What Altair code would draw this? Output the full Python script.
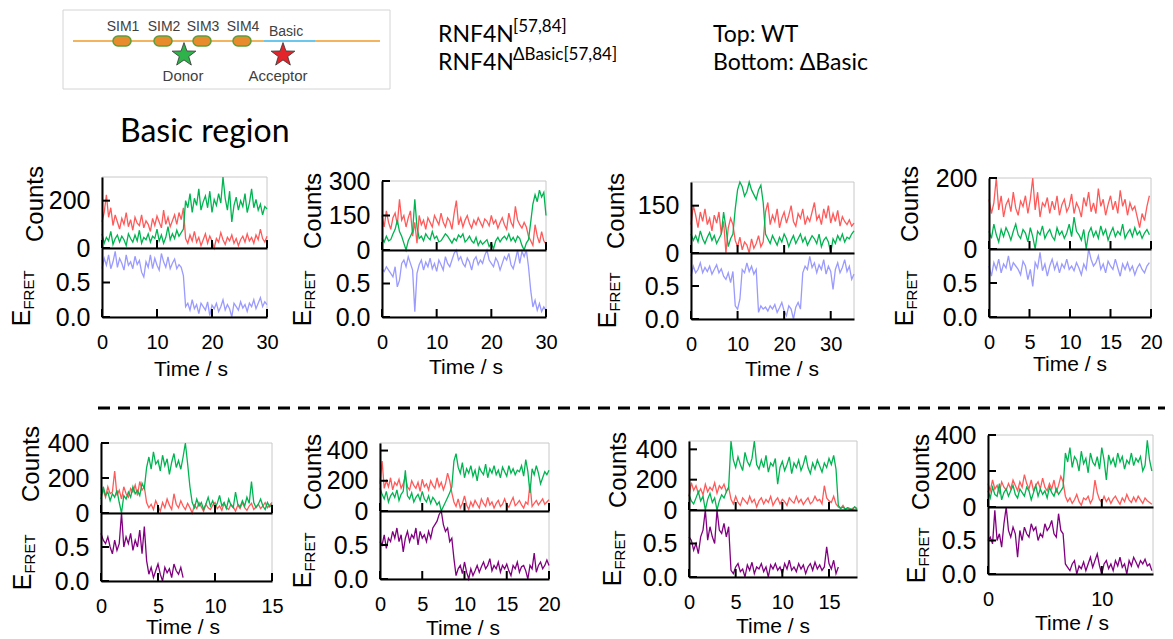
import altair as alt
import pandas as pd

SANS = "Liberation Sans, Arial, sans-serif"
HEAD = "Lato, Calibri, sans-serif"
RED = "#ff5a5a"
GREEN = "#00b451"
LAVENDER = "#9a9aff"
PURPLE = "#800080"
FRAME = "#c8c8c8"
STAR = ("M0,-1 L0.235,-0.324 L0.951,-0.309 L0.380,0.124 L0.588,0.809 L0,0.4 "
        "L-0.588,0.809 L-0.380,0.124 L-0.951,-0.309 L-0.235,-0.324 Z")

# ------------------------------------------------------------------ data
# Panel 1 (WT) dt 0.4 s
p1_red = [110, 150, 225, 130, 170, 95, 140, 110, 80, 125, 100, 150, 90, 120, 75, 130, 105, 95, 140, 85,
          115, 100, 70, 125, 95, 135, 110, 85, 160, 100, 130, 90, 115, 140, 100, 150, 120, 170,
          40, 20, 55, 30, 70, 25, 45, 10, 35, 60, 20, 50, 30, 0, 40, 25, 65, 35, 15, 45,
          30, 55, 20, 40, 10, 35, 50, 25, 60, 30, 45, 20, 55, 35, 80, 40, 25, 50]
p1_green = [60, 20, 45, 30, 70, 15, 40, 55, 25, 50, 35, 10, 60, 40, 25, 55, 30, 75, 20, 45,
            35, 60, 25, 50, 40, 80, 30, 55, 20, 45, 90, 35, 60, 40, 75, 50, 65, 80,
            200, 170, 230, 150, 210, 180, 250, 160, 195, 220, 170, 240, 150, 205, 180, 230, 190, 300, 210, 160,
            240, 110, 180, 215, 160, 200, 175, 230, 150, 190, 250, 170, 205, 160, 185, 140, 175, 165]
p1_fret = [0.7, 0.85, 0.75, 0.9, 0.7, 0.8, 0.95, 0.72, 0.85, 0.78, 0.68, 0.9, 0.75, 0.8, 0.7, 0.88, 0.76, 0.82, 0.65, 0.58,
           0.8, 0.72, 0.9, 0.7, 0.85, 0.75, 0.68, 0.92, 0.8, 0.72, 0.87, 0.7, 0.78, 0.84, 0.7, 0.76, 0.72, 0.6,
           0.15, 0.2, 0.1, 0.25, 0.12, 0.18, 0.05, 0.2, 0.15, 0.1, 0.22, 0.02, 0.17, 0.12, 0.2, 0.08, 0.15, 0.25, 0.1, 0.18,
           0.12, 0.0, 0.2, 0.15, 0.1, 0.22, 0.13, 0.18, 0.08, 0.2, 0.15, 0.25, 0.12, 0.2, 0.28, 0.15, 0.22, 0.18]

# Panel 2 (WT) dt 0.4 s
p2_red = [150, 100, 170, 120, 90, 140, 160, 110, 220, 130, 150, 100, 140, 170, 60, 120, 30, 150, 110, 130,
          90, 140, 120, 100, 150, 130, 110, 160, 120, 100, 140, 125, 90, 160, 215, 110, 140, 100, 130, 150,
          115, 95, 130, 110, 140, 120, 100, 135, 125, 105, 150, 115, 130, 95, 120, 140, 110, 90, 160, 120,
          100, 190, 130, 110, 95, 120, 100, 60,
          40, 20, 110, 60, 30, 80, 40, 25]
p2_green = [50, 35, 60, 40, 45, 70, 90, 130, 80, 60, 30, 0, 40, 60, 80, 220, 100, 50, 60, 40,
            70, 55, 45, 80, 50, 60, 35, 40, 55, 70, 60, 45, 30, 50, 40, 65, 55, 70, 35, 45,
            60, 40, 30, 55, 20, 40, 25, 35, 45, 15, 30, 5, 40, 55, 35, 50, 60, 45, 70, 40,
            55, 35, 60, 50, 20, 0, 30, 45,
            120, 200, 240, 210, 260, 230, 250, 150]
p2_fret = [0.72, 0.68, 0.75, 0.7, 0.65, 0.6, 0.75, 0.45, 0.55, 0.8, 0.85, 0.75, 0.9, 0.8, 0.7, 0.08, 0.65, 0.78, 0.85, 0.7,
           0.82, 0.75, 0.88, 0.72, 0.8, 0.68, 0.85, 0.78, 0.7, 0.9, 0.8, 0.75, 0.85, 0.95, 1.0, 0.85, 0.9, 0.8, 0.75, 0.88,
           0.82, 0.7, 0.85, 0.9, 0.78, 0.85, 0.8, 0.92, 1.0, 0.85, 0.8, 0.75, 0.88, 0.82, 0.7, 0.8, 0.9, 0.85, 0.95, 0.78,
           0.72, 0.85, 1.0, 0.8, 0.98, 0.9, 1.0, 0.75,
           0.4, 0.15, 0.25, 0.1, 0.2, 0.08, 0.15, 0.1]

# Panel 3 (WT) dt 0.5 s
p3_red = [90, 150, 120, 80, 130, 100, 140, 90, 110, 70, 120, 95, 130, 60, 100, 0, 80, 110, 90,
          40, 20, 50, 10, 35, 25, 0, 45, 15, 30, 55, 20, 35,
          130, 160, 90, 120, 100, 140, 80, 110, 130, 95, 120, 150, 100, 85, 125, 110, 140, 90, 115, 100,
          130, 160, 105, 120, 90, 140, 110, 150, 95, 125, 100, 135, 85, 115, 100, 90, 105, 85, 95]
p3_green = [60, 40, 55, 35, 70, 45, 30, 50, 65, 40, 55, 30, 45, 60, 130, 80, 20, 45, 60,
            140, 200, 225, 210, 180, 195, 225, 200, 185, 170, 200, 215, 160,
            60, 45, 30, 55, 40, 25, 50, 35, 60, 45, 20, 40, 55, 30, 45, 60, 35, 50, 25, 40,
            55, 45, 30, 60, 20, 40, 50, 35, 0, 45, 30, 55, 40, 60, 35, 50, 45, 60, 70]
p3_fret = [0.65, 0.8, 0.7, 0.75, 0.85, 0.7, 0.78, 0.72, 0.8, 0.68, 0.75, 0.82, 0.7, 0.76, 0.65, 0.6, 0.7, 0.55, 0.72,
           0.2, 0.15, 0.3, 0.75, 0.7, 0.85, 0.72, 0.8, 0.68, 0.75, 0.1, 0.2, 0.15,
           0.18, 0.12, 0.2, 0.15, 0.22, 0.1, 0.17, 0.25, 0.12, 0.05, 0.2, 0.15, 0.0, 0.18, 0.25, 0.15,
           0.7, 0.8, 0.75, 0.95, 0.78, 0.85, 0.7, 0.82, 0.75, 0.9, 0.68, 0.8, 0.72, 0.45, 0.75, 0.85,
           0.7, 0.78, 0.9, 0.72, 0.8, 0.6, 0.68]

# Panel 4 (WT) dt 0.3 s
p4_red = [140, 100, 130, 200, 110, 150, 90, 125, 140, 105, 160, 115, 95, 135, 120, 150, 100, 140, 200, 110,
          160, 90, 130, 120, 145, 100, 135, 110, 150, 95, 125, 140, 105, 120, 155, 100, 130, 115, 90, 145,
          120, 160, 105, 130, 100, 170, 120, 140, 95, 125, 150, 110, 135, 100, 165, 120, 140, 95, 130, 110,
          120, 90, 60, 100, 80, 120, 150]
p4_green = [50, 30, 70, 40, 20, 55, 35, 60, 45, 25, 50, 70, 40, 30, 55, 45, 20, 60, 35, 0,
            50, 40, 65, 30, 45, 55, 35, 25, 60, 40, 50, 30, 45, 70, 35, 90, 50, 40, 25, 55,
            0, 45, 60, 35, 50, 30, 65, 40, 55, 25, 45, 60, 35, 50, 40, 70, 30, 45, 55, 35,
            60, 40, 50, 30, 45, 55, 40]
p4_fret = [0.75, 0.6, 0.8, 0.7, 0.85, 0.65, 0.78, 0.72, 0.9, 0.68, 0.8, 0.75, 0.7, 0.62, 0.82, 0.75, 0.55, 0.7, 0.45, 0.8,
           0.72, 0.95, 0.68, 0.78, 0.6, 0.75, 0.85, 0.7, 0.8, 0.65, 0.78, 0.72, 0.85, 0.7, 0.75, 0.68, 0.8, 0.72, 0.62, 0.78,
           0.7, 1.0, 0.85, 0.75, 0.8, 0.9, 0.7, 0.78, 0.65, 0.82, 0.75, 0.7, 0.85, 0.72, 0.6, 0.78, 0.7, 0.8, 0.68, 0.75,
           0.62, 0.72, 0.78, 0.7, 0.65, 0.75, 0.8]

# Panel 5 (dBasic) dt 0.2 s
p5_red = [100, 130, 90, 150, 110, 120, 240, 100, 130, 80, 150, 110, 90, 140, 120, 160, 100, 180, 130, 150,
          60, 30, 50, 20, 70, 40, 10, 60, 30, 80, 45, 20, 110, 50, 30, 70, 40, 20, 55, 30,
          0, 45, 25, 60, 35, 10, 50, 30, 20, 45, 60, 25, 40, 15, 55, 30, 20, 50, 35, 10,
          45, 25, 60, 30, 15, 40, 55, 20, 35, 50, 25, 40, 60, 30, 45, 60]
p5_green = [80, 150, 100, 120, 70, 110, 90, 130, 60, 0, 100, 80, 120, 90, 150, 110, 130, 100, 170, 140,
            260, 320, 250, 350, 280, 300, 240, 330, 270, 310, 220, 290, 340, 260, 300, 250, 320, 400, 280,
            150, 60, 30, 80, 40, 60, 20, 50, 90, 40, 70, 30, 55, 100, 40, 60, 25, 80, 45, 30,
            120, 50, 35, 70, 40, 90, 55, 180, 60, 30, 50, 80, 40, 20, 60, 35, 50]
p5_fret = [0.7, 0.6, 0.55, 0.65, 0.5, 0.4, 0.6, 0.45, 0.55, 1.0, 0.5, 0.65, 0.55, 0.7, 0.45, 0.6, 0.5, 0.75, 0.4, 0.8,
           0.3, 0.1, 0.2, 0.05, 0.15, 0.25, 0.1, 0.0, 0.2, 0.12, 0.18, 0.05, 0.25, 0.15, 0.1, 0.2, 0.05]

# Panel 6 (dBasic) dt 0.25 s
p6_red = [180, 330, 150, 200, 160, 220, 140, 190, 170, 210, 150, 180, 230, 160, 140, 200, 170, 150, 190, 130,
          210, 160, 180, 140, 200, 170, 150, 220, 160, 190, 140, 180, 250, 200, 120,
          60, 30, 80, 20, 50, 100, 40, 10, 60, 30, 70, 45, 20, 80, 50, 30, 90, 40, 60, 20,
          50, 70, 30, 45, 80, 40, 25, 60, 90, 35, 50, 70, 40, 20, 60, 45, 180, 30, 50, 70,
          40, 60, 80, 45, 60, 75]
p6_green = [150, 110, 80, 130, 60, 100, 120, 90, 140, 70, 110, 130, 270, 100, 80, 120, 60, 90, 110, 70,
            130, 80, 60, 100, 50, 90, 70, 40, 60, 0, 30, 60, 90, 120, 160,
            330, 380, 290, 250, 320, 220, 280, 250, 300, 230, 270, 200, 290, 260, 240, 310, 220, 280, 250, 300,
            240, 270, 220, 290, 260, 230, 300, 250, 280, 240, 270, 260, 300, 230, 340, 260, 120, 280, 240, 300,
            250, 180, 220, 260, 240, 270]
p6_fret = [0.55, 0.5, 0.65, 0.45, 0.6, 0.55, 0.7, 0.6, 0.75, 0.55, 0.65, 0.4, 0.6, 0.7, 0.55, 0.65, 0.6, 0.75, 0.5, 0.7,
           0.6, 0.65, 0.55, 0.7, 0.6, 0.75, 0.8, 0.85, 0.95, 1.0, 0.8, 0.7, 0.75, 0.55, 0.6,
           0.3, 0.05, 0.15, 0.2, 0.08, 0.25, 0.1, 0.0, 0.15, 0.05, 0.12, 0.2, 0.1, 0.18, 0.25, 0.15, 0.2, 0.3, 0.12, 0.2,
           0.15, 0.25, 0.1, 0.2, 0.15, 0.22, 0.12, 0.05, 0.2, 0.15, 0.25, 0.1, 0.18, 0.2, 0.12, 0.0, 0.2, 0.15, 0.38, 0.1,
           0.2, 0.25, 0.15, 0.2, 0.28, 0.2]

# Panel 7 (dBasic) dt 0.25 s
p7_red = [90, 180, 130, 160, 110, 140, 100, 170, 120, 150, 130, 180, 110, 160, 140, 170, 120, 150,
          70, 40, 90, 50, 30, 80, 60, 40, 90, 50, 70, 20, 60, 80, 40, 70, 50, 90, 30, 60,
          80, 40, 70, 55, 30, 80, 60, 45, 90, 50, 70, 35, 60, 80, 40, 55, 90, 60, 70, 40,
          160, 80, 60, 50, 90, 40,
          20, 10, 30, 5, 15, 0, 10, 20, 5]
p7_green = [100, 60, 40, 80, 120, 60, 90, 0, 70, 110, 50, 80, 0, 60, 100, 80, 120, 150,
            460, 330, 280, 350, 300, 260, 380, 320, 290, 340, 460, 300, 270, 330, 280, 360, 250, 310, 290, 340,
            170, 280, 320, 260, 300, 350, 240, 310, 280, 330, 260, 300, 360, 280, 240, 310, 270, 330, 290, 250,
            310, 280, 340, 300, 360, 270,
            30, 10, 20, 5, 15, 10, 0, 20, 10]
p7_fret = [0.6, 0.55, 0.4, 0.5, 0.35, 0.6, 0.7, 1.0, 0.55, 0.75, 0.6, 0.5, 1.0, 0.7, 0.65, 0.8, 0.6, 0.75,
           0.1, 0.05, 0.15, 0.2, 0.08, 0.12, 0.0, 0.18, 0.1, 0.22, 0.05, 0.15, 0.12, 0.2, 0.08, 0.15, 0.0, 0.18,
           0.12, 0.2, 0.1, 0.15, 0.05, 0.2, 0.12, 0.25, 0.1, 0.15, 0.08, 0.2, 0.12, 0.18, 0.05, 0.15, 0.2, 0.1,
           0.22, 0.12, 0.18, 0.1, 0.15, 0.45, 0.2, 0.12, 0.25, 0.05, 0.15]

# Panel 8 (dBasic) dt 0.2 s
p8_red = [130, 90, 150, 100, 120, 80, 140, 110, 95, 130, 100, 150, 120, 90, 140, 110, 180, 130, 100, 150,
          90, 120, 140, 100, 160, 110, 90, 130, 100, 150, 80, 120, 170, 140,
          60, 30, 50, 20, 40, 70, 30, 10, 50, 40, 60, 20, 45, 150, 80, 40, 25, 60, 30, 50,
          20, 45, 60, 35, 15, 50, 30, 70, 40, 25, 55, 30, 60, 40, 20, 50, 35, 25, 15]
p8_green = [90, 50, 110, 70, 60, 130, 40, 80, 100, 60, 90, 120, 70, 50, 100, 80, 60, 110, 90, 40,
            80, 120, 60, 100, 70, 90, 50, 110, 80, 60, 100, 70, 90, 110,
            300, 250, 330, 220, 280, 260, 200, 310, 240, 270, 190, 300, 250, 230, 280, 210, 330, 260, 150, 290,
            240, 270, 220, 300, 250, 280, 210, 260, 240, 300, 230, 270, 250, 280, 200, 230, 370, 260, 200]
p8_fret = [0.5, 0.55, 0.45, 0.95, 0.5, 0.6, 0.4, 0.75, 1.0, 0.65, 0.55, 0.7, 0.6, 0.25, 0.65, 0.5, 0.7, 0.6, 0.55, 0.75,
           0.65, 0.7, 0.5, 0.6, 0.55, 0.75, 0.65, 0.7, 0.8, 0.6, 0.55, 0.9, 0.65, 0.6,
           0.15, 0.1, 0.05, 0.15, 0.2, 0.0, 0.12, 0.08, 0.18, 0.05, 0.15, 0.25, 0.1, 0.2, 0.3, 0.12, 0.0, 0.15, 0.2, 0.08,
           0.15, 0.05, 0.2, 0.12, 0.25, 0.1, 0.15, 0.0, 0.2, 0.12, 0.25, 0.18, 0.1, 0.2, 0.15, 0.22, 0.12, 0.15, 0.05]

# axis definitions per panel
x_ticks = [[0, 10, 20, 30], [0, 10, 20, 30], [0, 10, 20, 30], [0, 5, 10, 15, 20],
           [0, 5, 10, 15], [0, 5, 10, 15, 20], [0, 5, 10, 15], [0, 10]]
x_max = [30, 30, 35, 20, 15, 20, 18, 14.5]
count_ticks = [[0, 200], [0, 150, 300], [0, 150], [0, 200],
               [0, 200, 400], [0, 200, 400], [0, 200, 400], [0, 200, 400]]
count_max = [300, 300, 225, 200, 400, 450, 455, 400]
sample_dt = [0.4, 0.4, 0.5, 0.3, 0.2, 0.25, 0.25, 0.2]
fret_ticks = [0, 0.5]
sim_labels = ["SIM1", "SIM2", "SIM3", "SIM4"]

REDS = [p1_red, p2_red, p3_red, p4_red, p5_red, p6_red, p7_red, p8_red]
GREENS = [p1_green, p2_green, p3_green, p4_green, p5_green, p6_green, p7_green, p8_green]
FRETS = [p1_fret, p2_fret, p3_fret, p4_fret, p5_fret, p6_fret, p7_fret, p8_fret]
FRET_COLORS = [LAVENDER] * 4 + [PURPLE] * 4

# ------------------------------------------------------------------ layout (view pixels; page = view + 8)
W, H = 1157, 631
OFF = 8
TICK = 8
# left, right, counts top, counts/FRET boundary, FRET bottom (page pixels)
BOX = [(102, 267, 177, 248, 317), (382, 546, 181, 250, 317), (691, 854, 182, 253, 319), (989, 1151, 178, 249, 317),
       (101, 272, 443, 513, 581), (380, 549, 443, 511, 579), (689, 857, 441, 510, 577), (988, 1153, 435, 507, 574)]
COUNTS_LBL = [(36, 204), (314, 211), (617, 211), (911, 204), (32, 464), (314, 472), (619, 470), (922, 472)]
E_X = [22, 303, 608, 905, 23, 303, 613, 917]
TIME_LBL = [(191, 370), (466, 368), (782, 370), (1070, 365), (183, 628), (463, 629), (773, 627), (1072, 624)]


def trace_frame(vals, dt, name):
    return pd.DataFrame({"t": [round(i * dt, 3) for i in range(len(vals))], "v": vals, "ch": name})


def y_axis(vals, fmt, left):
    return alt.Axis(values=vals, format=fmt, title=None, grid=False, orient="left", offset=-left,
                    ticks=False, labelFont=SANS, labelFontSize=25, labelColor="black", labelPadding=12,
                    domainColor="black", domainWidth=2, labelOverlap=False, zindex=1)


def x_axis(vals, labels, bottom):
    return alt.Axis(values=vals, title=None, grid=False, labels=labels, orient="bottom", offset=bottom - H,
                    ticks=False, labelFont=SANS, labelFontSize=20, labelColor="black", labelPadding=15,
                    labelFlush=False, labelOverlap=False, domainColor="black", domainWidth=2, zindex=1)


px = dict(scale=None, axis=None)
layers = []

# light grey frames of every sub-plot
frames = []
for (l, r, t, m, b) in BOX:
    frames.append((l - OFF, r - OFF, t - OFF, m - OFF))
    frames.append((l - OFF, r - OFF, m - OFF, b - OFF))
frame_df = pd.DataFrame(frames, columns=["x0", "x1", "y0", "y1"])
layers.append(alt.Chart(frame_df).mark_rect(fillOpacity=0, stroke=FRAME, strokeWidth=1).encode(
    x=alt.X("x0:Q", **px), x2="x1:Q", y=alt.Y("y0:Q", **px), y2="y1:Q"))

# traces, each panel with its own scales and axes; inward ticks drawn as rules through the same scales
for k in range(8):
    l, r, t, m, b = [v - OFF for v in BOX[k]]
    xs = alt.Scale(domain=[0, x_max[k]], range=[l, r], nice=False, zero=False)
    ys_c = alt.Scale(domain=[0, count_max[k]], range=[m, t], nice=False, zero=False, clamp=True)
    ys_f = alt.Scale(domain=[0, 1], range=[b, m], nice=False, zero=False, clamp=True)

    red_df = trace_frame(REDS[k], sample_dt[k], "acceptor")
    green_df = trace_frame(GREENS[k], sample_dt[k], "donor")
    layers.append(alt.Chart(red_df).mark_line(strokeWidth=1.3, color=RED).encode(
        x=alt.X("t:Q", scale=xs, axis=x_axis(x_ticks[k], False, m)),
        y=alt.Y("v:Q", scale=ys_c, axis=y_axis(count_ticks[k], "d", l)),
    ))
    layers.append(alt.Chart(green_df).mark_line(strokeWidth=1.3, color=GREEN).encode(
        x=alt.X("t:Q", scale=xs, axis=None),
        y=alt.Y("v:Q", scale=ys_c, axis=None),
    ))
    fdf = trace_frame(FRETS[k], sample_dt[k], "fret")
    layers.append(alt.Chart(fdf).mark_line(strokeWidth=1.3, color=FRET_COLORS[k]).encode(
        x=alt.X("t:Q", scale=xs, axis=x_axis(x_ticks[k], True, b)),
        y=alt.Y("v:Q", scale=ys_f, axis=y_axis(fret_ticks, ".1f", l)),
    ))
    # x ticks (counts bottom and FRET bottom)
    xt = pd.DataFrame([(v, m, m - TICK) for v in x_ticks[k]] + [(v, b, b - TICK) for v in x_ticks[k]],
                      columns=["t", "y0", "y1"])
    layers.append(alt.Chart(xt).mark_rule(color="black", strokeWidth=2).encode(
        x=alt.X("t:Q", scale=xs, axis=None), y=alt.Y("y0:Q", **px), y2="y1:Q"))
    # y ticks
    yc = pd.DataFrame({"v": count_ticks[k]})
    layers.append(alt.Chart(yc).mark_rule(color="black", strokeWidth=2).encode(
        y=alt.Y("v:Q", scale=ys_c, axis=None), x=alt.value(l), x2=alt.value(l + TICK)))
    yf = pd.DataFrame({"v": fret_ticks})
    layers.append(alt.Chart(yf).mark_rule(color="black", strokeWidth=2).encode(
        y=alt.Y("v:Q", scale=ys_f, axis=None), x=alt.value(l), x2=alt.value(l + TICK)))

# panel axis titles
rows = []
for k in range(8):
    b = BOX[k][4]
    rows.append(("Counts", COUNTS_LBL[k][0], COUNTS_LBL[k][1], 24, 270))
    rows.append(("E", E_X[k], b + 1, 25, 270))
    rows.append(("FRET", E_X[k] + 7, b - 27, 15, 270))
    rows.append(("Time / s", TIME_LBL[k][0], TIME_LBL[k][1], 21, 0))
lbl = pd.DataFrame(rows, columns=["text", "x", "y", "size", "angle"])
lbl["x"] -= OFF
lbl["y"] -= OFF
layers.append(alt.Chart(lbl).mark_text(font=SANS, color="black", baseline="middle", align="center").encode(
    x=alt.X("x:Q", **px), y=alt.Y("y:Q", **px), text="text:N",
    size=alt.Size("size:Q", scale=None, legend=None), angle=alt.Angle("angle:Q", scale=None, legend=None)))

# ------------------------------------------------------------------ header schematic (view pixels)
one = pd.DataFrame({"a": [0]})
layers.append(alt.Chart(one).mark_rect(fillOpacity=0, stroke="#d4d4d4", strokeWidth=1).encode(
    x=alt.value(55), x2=alt.value(382), y=alt.value(2), y2=alt.value(81)))
layers.append(alt.Chart(one).mark_rule(color="#f2b45c", strokeWidth=2).encode(
    x=alt.value(65), x2=alt.value(372), y=alt.value(33)))
layers.append(alt.Chart(one).mark_rule(color="#6cc7ec", strokeWidth=2).encode(
    x=alt.value(256), x2=alt.value(307), y=alt.value(33)))
sim_x = [114, 155, 194, 234]
sims = pd.DataFrame({"name": sim_labels, "x0": [c - 9 for c in sim_x], "x1": [c + 9 for c in sim_x],
                     "lx": [c + 1 for c in sim_x]})
layers.append(alt.Chart(sims).mark_rect(cornerRadius=5, fill="#e88b2c", stroke="#5c9e3a", strokeWidth=1.5).encode(
    x=alt.X("x0:Q", **px), x2="x1:Q", y=alt.value(28), y2=alt.value(38)))
layers.append(alt.Chart(sims).mark_text(font=SANS, fontSize=14, color="#404040", baseline="middle").encode(
    x=alt.X("lx:Q", **px), y=alt.value(19), text="name:N"))
stars = pd.DataFrame({"x": [176, 275], "y": [47, 47], "fill": ["#2eb24a", "#e3242b"]})
layers.append(alt.Chart(stars).mark_point(shape=STAR, filled=True, size=620, stroke="#333333",
                                          strokeWidth=0.8, opacity=1).encode(
    x=alt.X("x:Q", **px), y=alt.Y("y:Q", **px), fill=alt.Fill("fill:N", scale=None, legend=None)))
schem = pd.DataFrame([("Basic", 278, 24, 14, 0), ("Donor", 175, 68, 15, 0), ("Acceptor", 270, 68, 15, 0)],
                     columns=["text", "x", "y", "size", "angle"])
layers.append(alt.Chart(schem).mark_text(font=SANS, color="#404040", baseline="middle", align="center").encode(
    x=alt.X("x:Q", **px), y=alt.Y("y:Q", **px), text="text:N",
    size=alt.Size("size:Q", scale=None, legend=None), angle=alt.Angle("angle:Q", scale=None, legend=None)))

# header texts
head = pd.DataFrame([
    ("RNF4N", 430, 27, 23, 0), ("[57,84]", 505, 19, 17, 0),
    ("RNF4N", 430, 55, 23, 0), ("ΔBasic[57,84]", 505, 47, 17, 0),
    ("Top: WT", 705, 27, 23, 0), ("Bottom: ΔBasic", 705, 55, 23, 0),
    ("Basic region", 112, 124, 32, 0),
], columns=["text", "x", "y", "size", "angle"])
layers.append(alt.Chart(head).mark_text(font=HEAD, color="black", baseline="middle", align="left").encode(
    x=alt.X("x:Q", **px), y=alt.Y("y:Q", **px), text="text:N",
    size=alt.Size("size:Q", scale=None, legend=None), angle=alt.Angle("angle:Q", scale=None, legend=None)))

# dashed separator between WT and dBasic rows
layers.append(alt.Chart(one).mark_rule(color="black", strokeWidth=3, strokeDash=[12, 8]).encode(
    x=alt.value(90), x2=alt.value(1157), y=alt.value(400)))

chart = alt.layer(*layers).resolve_scale(
    x="independent", y="independent"
).properties(
    width=W, height=H, padding=0, autosize=alt.AutoSizeParams(type="none")
).configure_view(stroke=None)

chart.save("out.html", embed_options={"renderer": "svg", "actions": False})
